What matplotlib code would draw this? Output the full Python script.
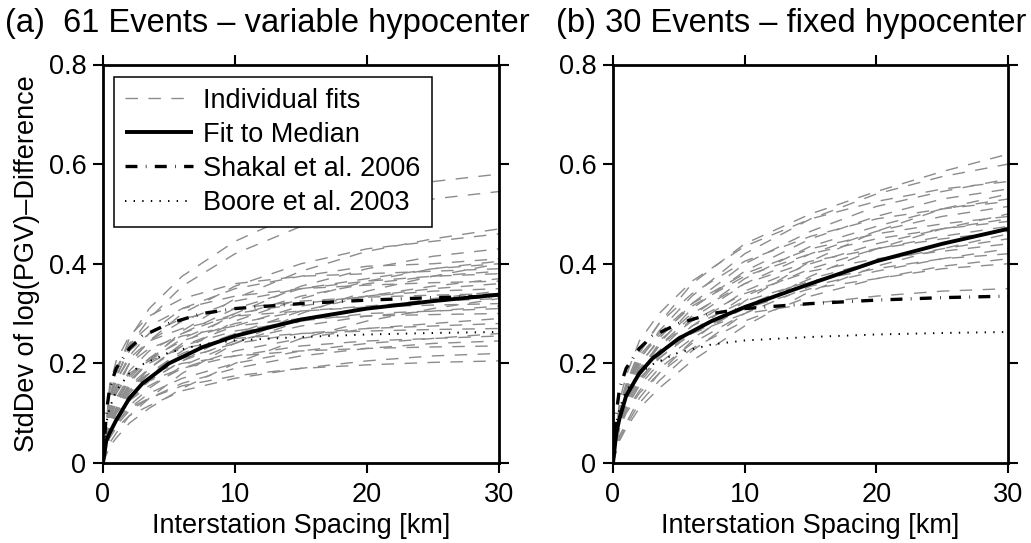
import matplotlib
matplotlib.use("Agg")
import matplotlib.pyplot as plt
from matplotlib.lines import Line2D

plt.rcParams['font.family'] = ['Liberation Sans', 'DejaVu Sans']
plt.rcParams['lines.scale_dashes'] = False

# ---------------- data ----------------
dist_km = [0, 0.5, 1, 2, 3.5, 6, 10, 15, 20, 25, 30]

fits_a = [
    [0, .13, .18, .25, .31, .375, .445, .505, .54, .565, .58],
    [0, .12, .17, .235, .29, .355, .42, .475, .505, .53, .545],
    [0, .08, .11, .16, .205, .265, .33, .385, .425, .45, .47],
    [0, .10, .145, .20, .245, .30, .355, .40, .43, .445, .46],
    [0, .075, .105, .145, .19, .24, .30, .355, .39, .415, .43],
    [0, .125, .165, .215, .26, .31, .35, .375, .395, .40, .41],
    [0, .07, .10, .14, .18, .225, .285, .33, .365, .39, .405],
    [0, .09, .125, .17, .21, .26, .31, .35, .37, .39, .40],
    [0, .155, .205, .255, .295, .33, .36, .375, .38, .385, .39],
    [0, .085, .12, .165, .205, .25, .295, .335, .36, .375, .385],
    [0, .115, .15, .20, .245, .285, .325, .35, .365, .375, .38],
    [0, .065, .09, .125, .165, .205, .26, .305, .335, .355, .37],
    [0, .145, .19, .24, .275, .31, .335, .35, .357, .362, .365],
    [0, .08, .11, .155, .19, .235, .275, .315, .335, .35, .36],
    [0, .105, .14, .185, .225, .26, .30, .32, .335, .345, .35],
    [0, .06, .085, .115, .15, .195, .24, .285, .31, .33, .345],
    [0, .135, .175, .225, .26, .29, .31, .325, .333, .337, .34],
    [0, .075, .105, .145, .18, .22, .26, .29, .31, .325, .335],
    [0, .10, .13, .175, .21, .245, .28, .305, .315, .325, .33],
    [0, .13, .165, .21, .245, .27, .295, .305, .313, .317, .32],
    [0, .07, .10, .135, .165, .205, .245, .275, .295, .305, .315],
    [0, .095, .125, .165, .20, .235, .265, .285, .30, .305, .31],
    [0, .12, .155, .20, .23, .255, .275, .29, .295, .298, .30],
    [0, .065, .09, .125, .155, .19, .225, .25, .27, .28, .29],
    [0, .085, .11, .15, .18, .21, .24, .26, .27, .275, .28],
    [0, .11, .14, .18, .205, .23, .25, .26, .265, .268, .27],
    [0, .055, .08, .11, .14, .17, .20, .225, .24, .25, .26],
    [0, .075, .10, .135, .165, .19, .215, .235, .245, .25, .255],
    [0, .055, .075, .105, .13, .16, .19, .215, .23, .24, .245],
    [0, .095, .12, .155, .18, .20, .215, .225, .23, .233, .235],
    [0, .05, .07, .095, .115, .145, .17, .19, .205, .215, .22],
    [0, .06, .08, .11, .13, .155, .175, .19, .197, .202, .205],
    [0, .04, .06, .095, .13, .18, .24, .30, .345, .375, .40],
    [0, .033, .05, .08, .11, .15, .20, .25, .285, .31, .33],
]

fits_b = [
    [0, .10, .15, .22, .28, .36, .44, .50, .545, .585, .62],
    [0, .10, .145, .205, .265, .335, .42, .49, .54, .575, .60],
    [0, .095, .135, .195, .25, .32, .40, .465, .515, .545, .57],
    [0, .125, .175, .245, .30, .365, .435, .49, .525, .55, .565],
    [0, .095, .13, .185, .24, .31, .385, .45, .495, .53, .55],
    [0, .055, .08, .13, .18, .245, .325, .405, .465, .51, .54],
    [0, .09, .125, .18, .235, .295, .37, .435, .475, .51, .53],
    [0, .115, .16, .225, .28, .34, .405, .455, .49, .51, .525],
    [0, .09, .125, .175, .225, .29, .36, .42, .465, .495, .515],
    [0, .05, .075, .12, .165, .225, .30, .375, .43, .47, .50],
    [0, .11, .155, .215, .26, .32, .38, .43, .46, .48, .495],
    [0, .085, .12, .165, .215, .275, .345, .40, .44, .47, .49],
    [0, .105, .15, .21, .255, .315, .375, .42, .45, .47, .485],
    [0, .08, .115, .16, .21, .265, .335, .39, .43, .455, .475],
    [0, .10, .145, .20, .245, .30, .36, .405, .43, .45, .465],
    [0, .045, .07, .11, .15, .205, .275, .345, .395, .43, .46],
    [0, .075, .11, .155, .20, .25, .315, .37, .405, .43, .45],
    [0, .095, .135, .19, .235, .285, .34, .385, .41, .425, .44],
    [0, .075, .105, .145, .19, .24, .30, .355, .385, .41, .43],
    [0, .09, .13, .18, .22, .275, .325, .365, .39, .41, .42],
    [0, .07, .10, .14, .18, .23, .285, .335, .37, .395, .41],
    [0, .09, .125, .17, .21, .26, .31, .35, .37, .39, .40],
    [0, .105, .14, .185, .225, .26, .30, .32, .335, .345, .35],
]

ref_km = [0, 0.25, 0.5, 1, 2, 3, 5, 7.5, 10, 15, 20, 25, 30]
median_a = [0, .045, .06, .086, .13, .16, .20, .232, .255, .288, .31, .325, .338]
median_b = [0, .06, .09, .135, .18, .21, .25, .285, .313, .36, .405, .44, .47]
shakal = [0, .10, .15, .19, .23, .255, .28, .30, .31, .32, .327, .332, .335]
boore = [0, .08, .11, .145, .18, .198, .222, .238, .246, .253, .258, .261, .263]

xticks = [0, 10, 20, 30]
yticks = [0, 0.2, 0.4, 0.6, 0.8]
ytick_labels = ["0", "0.2", "0.4", "0.6", "0.8"]
titles = ["(a)  61 Events \u2013 variable hypocenter", "(b) 30 Events \u2013 fixed hypocenter"]
legend_labels = ["Individual fits", "Fit to Median", "Shakal et al. 2006", "Boore et al. 2003"]

# ---------------- styles ----------------
GRAY = '#8c8c8c'
sty_ind = dict(color=GRAY, lw=1.0, dashes=(9, 7.5))
sty_med = dict(color='black', lw=2.8, solid_capstyle='butt')
sty_sha = dict(color='black', lw=2.4, dashes=(8.6, 6, 0.5, 6))
sty_boo = dict(color='black', lw=1.4, dashes=(1.0, 5.2))

fig = plt.figure(figsize=(10.31, 5.43), dpi=100)
ax_a = fig.add_axes([103/1031, 80/543, 396/1031, 398.5/543])
ax_b = fig.add_axes([613/1031, 80/543, 395/1031, 398.5/543])

for ax, fits, med in [(ax_a, fits_a, median_a), (ax_b, fits_b, median_b)]:
    for f in fits:
        ax.plot(dist_km, f, zorder=2, **sty_ind)
    ax.plot(ref_km, boore, zorder=3, **sty_boo)
    ax.plot(ref_km, shakal, zorder=4, **sty_sha)
    ax.plot(ref_km, med, zorder=5, **sty_med)
    ax.set_xlim(0, 30)
    ax.set_ylim(0, 0.8)
    ax.set_xticks(xticks)
    ax.set_yticks(yticks)
    ax.set_yticklabels(ytick_labels)
    ax.tick_params(direction='out', length=7, width=1.5, labelsize=19.5,
                   top=True, right=True, pad=5)
    ax.tick_params(axis='x', pad=7)
    for s in ax.spines.values():
        s.set_linewidth(2.0)
    ax.set_xlabel("Interstation Spacing [km]", fontsize=19.5, labelpad=3)

ax_a.set_ylabel("StdDev of log(PGV)\u2013Difference", fontsize=19.5, labelpad=6)

handles = [Line2D([], [], **sty_ind), Line2D([], [], **sty_med),
           Line2D([], [], **sty_sha), Line2D([], [], **sty_boo)]
leg = ax_a.legend(handles, legend_labels, loc='upper left',
                  bbox_to_anchor=(0.028, 0.969), borderaxespad=0,
                  fontsize=19.5, handlelength=2.5, handletextpad=0.4,
                  labelspacing=0.3, borderpad=0.4, fancybox=False,
                  framealpha=1, edgecolor='black')
leg.get_frame().set_linewidth(1.1)
leg.set_zorder(10)

fig.text(5/1031, 1 - 32/543, titles[0], fontsize=23.5, va='baseline', ha='left')
fig.text(556/1031, 1 - 32/543, titles[1], fontsize=23.5, va='baseline', ha='left')

fig.savefig("out.png", dpi=100)
